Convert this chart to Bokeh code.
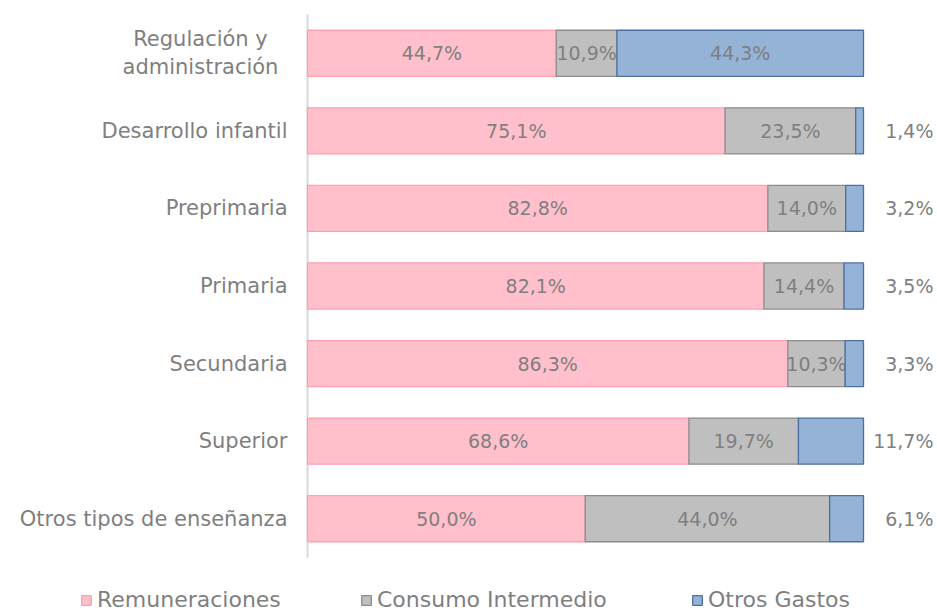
from bokeh.plotting import figure
from bokeh.models import Range1d, ColumnDataSource, Legend, LegendItem
from bokeh.core.properties import value
from bokeh.embed import file_html
from bokeh.resources import INLINE

categories = ["Regulación y\nadministración", "Desarrollo infantil", "Preprimaria",
              "Primaria", "Secundaria", "Superior", "Otros tipos de enseñanza"]
remuneraciones = [44.7, 75.1, 82.8, 82.1, 86.3, 68.6, 50.0]
consumo = [10.9, 23.5, 14.0, 14.4, 10.3, 19.7, 44.0]
otros = [44.3, 1.4, 3.2, 3.5, 3.3, 11.7, 6.1]
series_names = ["Remuneraciones", "Consumo Intermedio", "Otros Gastos"]

FONT = "DejaVu Sans"
TXT = "#7F7F7F"
fills = ["#FFC0CB", "#BFBFBF", "#95B3D7"]
lines = ["#FF9FB2", "#8C8C8C", "#4D6FA3"]

def fmt(v):
    return f"{v:.1f}".replace(".", ",") + "%"

series = [remuneraciones, consumo, otros]
n = len(categories)
totals = [sum(s[i] for s in series) for i in range(n)]
shares = [[s[i] / totals[i] for i in range(n)] for s in series]
ypos = [i + 0.5 for i in range(n)]  # row centres, top row first

W, H = 937, 612
x0_px = 307.0      # pixel of 0 %
unit = 556.0       # pixels per 100 %
top_px, bot_px = 14.0, 557.0
band = (bot_px - top_px) / n

p = figure(width=W, height=H, output_backend="svg", toolbar_location=None,
           x_range=Range1d(-x0_px / unit, (W - x0_px) / unit),
           y_range=Range1d(n + (H - bot_px) / band, -top_px / band),
           min_border=0)
p.outline_line_color = None
p.grid.grid_line_color = None
p.axis.visible = False
p.background_fill_color = "white"
p.border_fill_color = "white"

# vertical category axis line
p.segment(x0=[0], y0=[0], x1=[0], y1=[n], line_color="#D9D9D9", line_width=2)

# category labels
aligns = ["center" if "\n" in c else "right" for c in categories]
offs = [-107 if "\n" in c else -20 for c in categories]
p.text(x=[0] * n, y=ypos, text=categories, text_align=aligns, x_offset=offs,
       text_baseline="middle", text_font=value(FONT), text_font_size="21px",
       text_color=TXT, text_line_height=1.15)

renderers = []
left = [0.0] * n
for k, sh in enumerate(shares):
    right = [left[i] + sh[i] for i in range(n)]
    src = ColumnDataSource(dict(y=ypos, left=list(left), right=right))
    r = p.hbar(y="y", left="left", right="right", height=0.594, source=src,
               fill_color=fills[k], line_color=lines[k], line_width=1.3)
    renderers.append(r)
    xs, ys, ts = [], [], []
    xo, yo, to = [], [], []
    for i in range(n):
        v = series[k][i]
        if k == 2 and v < 15:
            xo.append((933 - x0_px) / unit)
            yo.append(ypos[i])
            to.append(fmt(v))
        else:
            xs.append((left[i] + right[i]) / 2)
            ys.append(ypos[i])
            ts.append(fmt(v))
    p.text(x=xs, y=ys, text=ts, text_align="center", text_baseline="middle",
           text_font=value(FONT), text_font_size="19px", text_color=TXT)
    if xo:
        p.text(x=xo, y=yo, text=to, text_align="right", text_baseline="middle",
               text_font=value(FONT), text_font_size="19px", text_color=TXT)
    left = right

legend_x = [80, 360, 691]
for k in range(3):
    lg = Legend(items=[LegendItem(label=series_names[k], renderers=[renderers[k]])],
                location=(legend_x[k], 0),
                orientation="horizontal", padding=0, margin=0,
                border_line_color=None, background_fill_alpha=0,
                glyph_width=12, glyph_height=12, label_standoff=5,
                label_text_font=FONT, label_text_font_size="22px",
                label_text_color=TXT, label_height=22)
    p.add_layout(lg)

open("out.html", "w").write(file_html(p, INLINE))
